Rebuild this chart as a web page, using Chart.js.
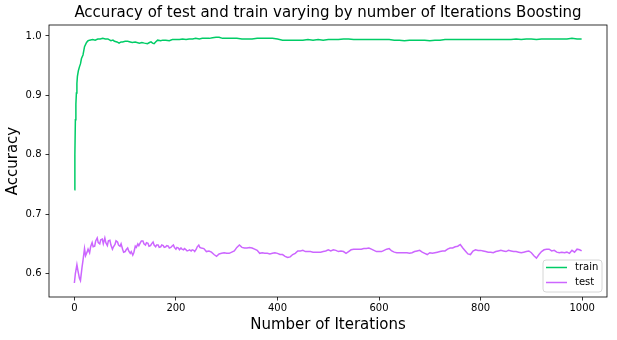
<!DOCTYPE html>
<html>
<head>
<meta charset="utf-8">
<script src="https://cdn.jsdelivr.net/npm/chart.js@4/dist/chart.umd.min.js"></script>
<style>
  html, body { margin: 0; padding: 0; background: #fff; }
  #wrap { width: 617px; height: 340px; }
</style>
</head>
<body>
<div id="wrap"><canvas id="myChart" width="617" height="340"></canvas></div>
<script>
// values
var trainIters = [
  0, 1, 2, 3, 4, 5, 6, 8, 10, 12,
  14, 17, 20, 24, 27, 30, 36, 41, 46, 51,
  56, 61, 66, 70, 72, 76, 79, 84, 88, 92,
  95, 100, 105, 110, 114, 120, 128, 133, 138, 144,
  148, 151, 154, 157, 160, 164, 170, 174, 180, 187,
  193, 200, 207, 213, 220, 226, 233, 239, 246, 252,
  259, 266, 272, 279, 285, 292, 300, 310, 320, 330,
  340, 350, 360, 370, 380, 390, 400, 410, 420, 430,
  440, 450, 460, 470, 480, 490, 500, 510, 520, 530,
  540, 550, 560, 570, 580, 590, 600, 610, 620, 630,
  640, 650, 660, 670, 680, 690, 700, 710, 720, 730,
  740, 750, 760, 770, 780, 790, 800, 810, 820, 830,
  840, 850, 860, 870, 880, 890, 900, 910, 920, 930,
  940, 950, 960, 970, 980, 990, 999
];
var trainAcc = [
  0.741, 0.800, 0.859, 0.885, 0.904, 0.920, 0.932, 0.942, 0.948, 0.953,
  0.962, 0.968, 0.982, 0.989, 0.992, 0.993, 0.994, 0.993, 0.995, 0.995,
  0.996, 0.995, 0.995, 0.993, 0.992, 0.993, 0.991, 0.990, 0.988, 0.990,
  0.990, 0.991, 0.991, 0.990, 0.989, 0.990, 0.988, 0.989, 0.988, 0.987,
  0.989, 0.990, 0.988, 0.987, 0.990, 0.993, 0.992, 0.993, 0.993, 0.992,
  0.994, 0.994, 0.994, 0.995, 0.994, 0.995, 0.995, 0.996, 0.995, 0.996,
  0.996, 0.996, 0.997, 0.998, 0.998, 0.996, 0.996, 0.996, 0.996, 0.995,
  0.995, 0.995, 0.996, 0.996, 0.996, 0.996, 0.995, 0.993, 0.993, 0.993,
  0.993, 0.993, 0.994, 0.993, 0.994, 0.993, 0.994, 0.994, 0.994, 0.995,
  0.995, 0.994, 0.994, 0.994, 0.994, 0.994, 0.994, 0.994, 0.994, 0.993,
  0.993, 0.992, 0.993, 0.993, 0.993, 0.993, 0.992, 0.993, 0.993, 0.994,
  0.994, 0.994, 0.994, 0.994, 0.994, 0.994, 0.994, 0.994, 0.994, 0.994,
  0.994, 0.994, 0.994, 0.995, 0.994, 0.995, 0.995, 0.994, 0.995, 0.995,
  0.995, 0.995, 0.995, 0.995, 0.996, 0.995, 0.995
];

var testIters = [
  0, 2, 5, 7, 10, 12, 15, 17, 20, 22, 25, 27, 30, 32, 35, 37, 40, 42, 45, 47,
  50, 52, 55, 57, 60, 62, 65, 67, 70, 72, 75, 77, 80, 82, 85, 87, 90, 92, 95, 97,
  100, 102, 105, 107, 110, 112, 115, 117, 120, 122, 125, 127, 130, 132, 135, 137, 140, 142, 145, 147,
  150, 152, 155, 157, 160, 162, 165, 167, 170, 172, 175, 177, 180, 182, 185, 187, 190, 192, 195, 197,
  200, 202, 205, 207, 210, 212, 215, 217, 220, 222, 225, 227, 230, 232, 235, 237, 240, 242, 245, 247,
  250, 255, 260, 265, 270, 275, 280, 285, 290, 295,
  300, 305, 310, 315, 320, 325, 330, 335, 340, 345, 350, 355, 360, 365, 370, 375, 380, 385, 390, 395,
  400, 405, 410, 415, 420, 425, 430, 435, 440, 445, 450, 455, 460, 465, 470, 475, 480, 485, 490, 495,
  500, 505, 510, 515, 520, 525, 530, 535, 540, 545, 550, 555, 560, 565, 570, 575, 580, 585, 590, 595,
  600, 605, 610, 615, 620, 625, 630, 635, 640, 645, 650, 655, 660, 665, 670, 675, 680, 685, 690, 695,
  700, 705, 710, 715, 720, 725, 730, 735, 740, 745, 750, 755, 760, 765, 770, 775, 780, 785, 790, 795,
  800, 805, 810, 815, 820, 825, 830, 835, 840, 845, 850, 855, 860, 865, 870, 875, 880, 885, 890, 895,
  900, 905, 910, 915, 920, 925, 930, 935, 940, 945, 950, 955, 960, 965, 970, 975, 980, 985, 990, 995, 999
];
var testAcc = [
  0.584, 0.600, 0.615, 0.605, 0.592, 0.588, 0.610, 0.622, 0.642, 0.630, 0.636, 0.641, 0.635, 0.645, 0.652, 0.645, 0.646, 0.655, 0.660, 0.652,
  0.650, 0.657, 0.658, 0.650, 0.660, 0.652, 0.647, 0.655, 0.656, 0.648, 0.641, 0.645, 0.649, 0.655, 0.653, 0.648, 0.646, 0.650, 0.641, 0.636,
  0.637, 0.640, 0.643, 0.638, 0.634, 0.637, 0.631, 0.635, 0.646, 0.644, 0.650, 0.647, 0.652, 0.655, 0.655, 0.650, 0.648, 0.652, 0.651, 0.646,
  0.647, 0.650, 0.653, 0.648, 0.645, 0.648, 0.648, 0.644, 0.645, 0.648, 0.647, 0.644, 0.645, 0.647, 0.646, 0.643, 0.644, 0.646, 0.648, 0.644,
  0.641, 0.644, 0.643, 0.640, 0.643, 0.641, 0.640, 0.642, 0.640, 0.638, 0.639, 0.640, 0.638, 0.640, 0.639, 0.637, 0.641, 0.645, 0.648, 0.644,
  0.643, 0.642, 0.637, 0.638, 0.636, 0.632, 0.629, 0.633, 0.634, 0.635,
  0.634, 0.634, 0.636, 0.638, 0.644, 0.648, 0.644, 0.643, 0.643, 0.644, 0.643, 0.641, 0.639, 0.634, 0.635, 0.634, 0.634, 0.633, 0.634, 0.635,
  0.634, 0.632, 0.632, 0.629, 0.627, 0.628, 0.632, 0.634, 0.638, 0.638, 0.639, 0.637, 0.637, 0.637, 0.636, 0.636, 0.636, 0.636, 0.637, 0.638,
  0.640, 0.638, 0.640, 0.639, 0.637, 0.638, 0.637, 0.634, 0.637, 0.640, 0.641, 0.641, 0.641, 0.641, 0.642, 0.642, 0.643, 0.641, 0.639, 0.637,
  0.637, 0.637, 0.639, 0.641, 0.642, 0.638, 0.636, 0.635, 0.635, 0.635, 0.635, 0.635, 0.634, 0.635, 0.637, 0.638, 0.639, 0.636, 0.634, 0.632,
  0.635, 0.634, 0.635, 0.636, 0.637, 0.638, 0.638, 0.641, 0.643, 0.643, 0.645, 0.646, 0.649, 0.643, 0.638, 0.633, 0.632, 0.638, 0.640, 0.639,
  0.639, 0.638, 0.637, 0.636, 0.636, 0.635, 0.637, 0.638, 0.639, 0.638, 0.637, 0.639, 0.638, 0.637, 0.637, 0.636, 0.635, 0.636, 0.637, 0.638,
  0.635, 0.630, 0.626, 0.632, 0.637, 0.640, 0.641, 0.641, 0.638, 0.639, 0.636, 0.635, 0.636, 0.635, 0.636, 0.634, 0.639, 0.636, 0.641, 0.640, 0.638
];

var xTicks = [0, 200, 400, 600, 800, 1000];
var yTicks = [0.6, 0.7, 0.8, 0.9, 1.0];

var titleText = 'Accuracy of test and train varying by number of Iterations Boosting';
var font = 'DejaVu Sans';

function pairs(xs, ys) {
    return xs.map(function (x, i) { return {x: x, y: ys[i]}; });
}

// frame, title and legend the matplotlib way
var extras = {
    id: 'extras',
    afterDraw: function (chart) {
        var ctx = chart.ctx;
        var a = chart.chartArea;
        ctx.save();
        ctx.strokeStyle = '#000';
        ctx.lineWidth = 0.8;
        ctx.strokeRect(a.left, a.top, a.right - a.left, a.bottom - a.top);

        ctx.fillStyle = '#000';
        ctx.font = '15px "' + font + '"';
        ctx.textAlign = 'center';
        ctx.textBaseline = 'middle';
        ctx.fillText(titleText, (a.left + a.right) / 2, 13);

        // legend box, lower right
        var bw = 59, bh = 32;
        var bx = a.right - 5 - bw, by = a.bottom - 5 - bh;
        ctx.beginPath();
        ctx.roundRect(bx, by, bw, bh, 3);
        ctx.fillStyle = 'rgba(255,255,255,0.8)';
        ctx.fill();
        ctx.strokeStyle = '#d6d6d6';
        ctx.lineWidth = 1;
        ctx.stroke();
        ctx.font = '10px "' + font + '"';
        ctx.textAlign = 'left';
        chart.data.datasets.forEach(function (ds, i) {
            var ly = by + 7.5 + i * 15;
            ctx.strokeStyle = ds.borderColor;
            ctx.lineWidth = 1.5;
            ctx.beginPath();
            ctx.moveTo(bx + 3, ly);
            ctx.lineTo(bx + 24, ly);
            ctx.stroke();
            ctx.fillStyle = '#000';
            ctx.fillText(ds.label, bx + 32, ly);
        });
        ctx.restore();
    }
};

var element = document.getElementById('myChart').getContext('2d');

var chart = new Chart(element, {
    type: 'line',
    data: {
        datasets: [{
            label: 'train',
            data: pairs(trainIters, trainAcc),
            borderColor: '#00cc66',
            borderWidth: 1.5,
            pointRadius: 0,
            tension: 0,
            fill: false
        }, {
            label: 'test',
            data: pairs(testIters, testAcc),
            borderColor: '#cc66ff',
            borderWidth: 1.5,
            pointRadius: 0,
            tension: 0,
            fill: false
        }]
    },
    options: {
        responsive: false,
        animation: false,
        events: [],
        layout: { padding: { top: 25, right: 10, left: 0, bottom: 0 } },
        plugins: {
            legend: { display: false },
            title: { display: false },
            tooltip: { enabled: false }
        },
        scales: {
            x: {
                type: 'linear',
                min: -49.95,
                max: 1048.95,
                afterBuildTicks: function (s) { s.ticks = xTicks.map(function (v) { return {value: v}; }); },
                afterFit: function (s) { s.height = 43; },
                ticks: {
                    color: '#000',
                    font: { family: font, size: 10 },
                    padding: 2,
                    maxRotation: 0,
                    autoSkip: false,
                    callback: function (v) { return String(v); }
                },
                grid: { drawOnChartArea: false, color: '#000', lineWidth: 0.8, tickLength: 3.5 },
                border: { display: false },
                title: {
                    display: true,
                    text: 'Number of Iterations',
                    color: '#000',
                    font: { family: font, size: 15 },
                    padding: { top: 0, bottom: 6 }
                }
            },
            y: {
                type: 'linear',
                min: 0.5605,
                max: 1.0185,
                afterBuildTicks: function (s) { s.ticks = yTicks.map(function (v) { return {value: v}; }); },
                afterFit: function (s) { s.width = 49; },
                ticks: {
                    color: '#000',
                    font: { family: font, size: 10 },
                    padding: 4,
                    autoSkip: false,
                    callback: function (v) { return v.toFixed(1); }
                },
                grid: { drawOnChartArea: false, color: '#000', lineWidth: 0.8, tickLength: 3.5 },
                border: { display: false },
                title: {
                    display: true,
                    text: 'Accuracy',
                    color: '#000',
                    font: { family: font, size: 15 },
                    padding: { top: 4, bottom: 0 }
                }
            }
        }
    },
    plugins: [extras]
});
</script>
</body>
</html>
